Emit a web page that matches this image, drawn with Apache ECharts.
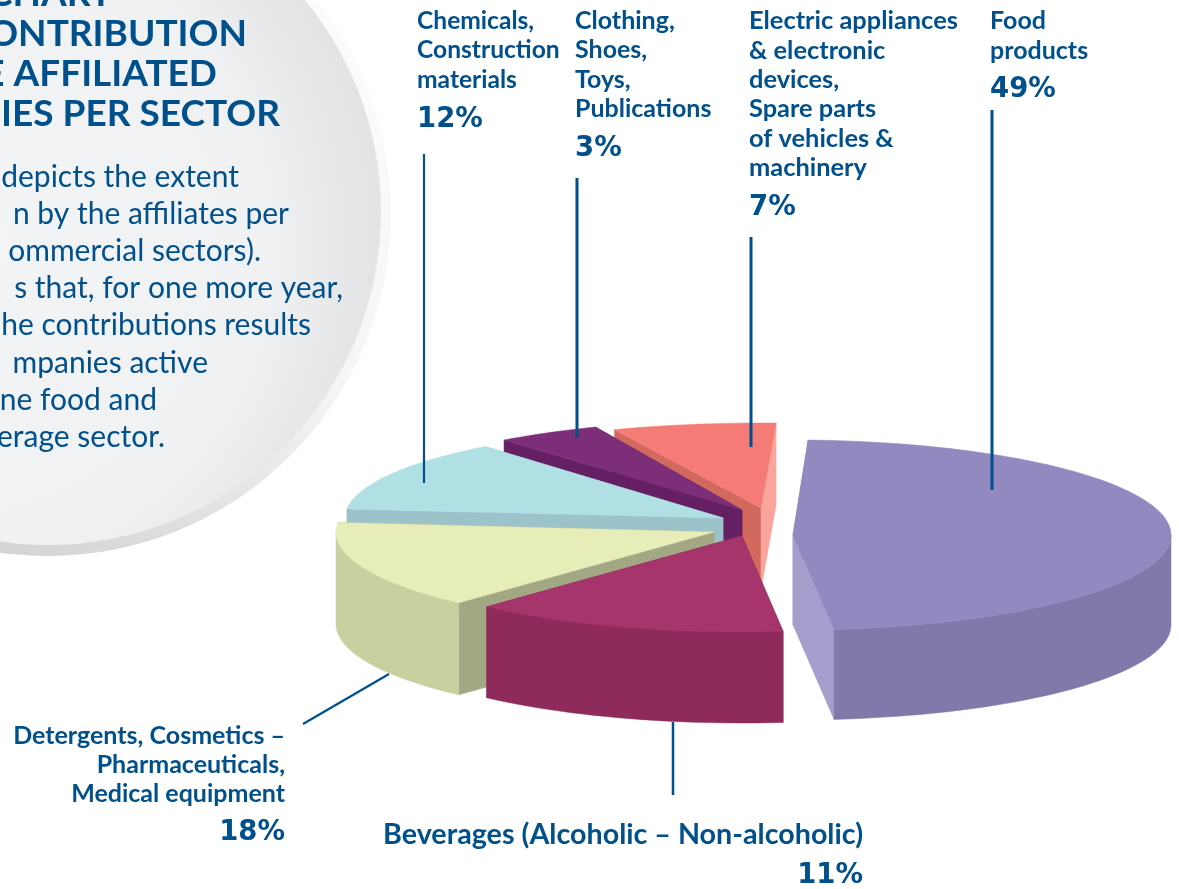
<!DOCTYPE html>
<html><head><meta charset="utf-8">
<style>html,body{margin:0;padding:0;background:#fff}#c{width:1179px;height:889px}</style>
<script src="https://cdn.jsdelivr.net/npm/echarts@6/dist/echarts.min.js"></script>
</head><body><div id="c"></div>
<script>
// ---- data ----
const sectorValues = [49, 11, 18, 12, 3, 7];
const sectorLabels = [
  ['Food', 'products'],
  ['Beverages (Alcoholic – Non-alcoholic)'],
  ['Detergents, Cosmetics –', 'Pharmaceuticals,', 'Medical equipment'],
  ['Chemicals,', 'Construction', 'materials'],
  ['Clothing,', 'Shoes,', 'Toys,', 'Publications'],
  ['Electric appliances', '& electronic', 'devices,', 'Spare parts', 'of vehicles &', 'machinery']
];
const headingLines = ['CHART', 'CONTRIBUTION', 'E AFFILIATED', 'NIES PER SECTOR'];
const bodyLines = ['depicts the extent', 'n by the affiliates per', 'ommercial sectors).', 's that, for one more year,',
  'he contributions results', 'mpanies active', 'ne food and', 'erage sector.'];

// ---- layout and style (not data) ----
const BLUE = '#00508c', FONT = 'Lato';
const RX = 378, START = 2.3;
const apexes = [[793,535],[742,536],[714,532],[723,518],[742,510],[761,508]];
const radiiY = [95, 96, 96, 92, 90, 85];
const depths = [90, 91, 92, 90, 90, 82];
const viewStretch = [0.972, 1.23, 0.821, 1.049, 1.5, 0.996];   // the drawing's perspective distortion of sweep
const drawOrder = [5, 4, 3, 2, 1, 0];                          // painter's order, back to front
const palette = [
  {top:'#9189c0', outer:'#8279ab', a:'#8279ab', b:'#a69fce'},
  {top:'#a5356b', outer:'#8e2b5b', a:'#8e2b5b', b:'#8e2b5b'},
  {top:'#e7edb9', outer:'#c9d0a0', a:'#a3a884', b:'#a3a884'},
  {top:'#b0e0e4', outer:'#9cc3c9', a:'#9cc3c9', b:'#9cc3c9'},
  {top:'#7c2e78', outer:'#651f63', a:'#651f63', b:'#651f63'},
  {top:'#f47b76', outer:'#d2695f', a:'#d2695f', b:'#f9a59c'}
];
const labelPlacement = [
  {x:990, y:21, align:'left', gap:29.5, pctGap:39.5, size:25},
  {x:863, y:835, align:'right', gap:29.5, pctGap:41, size:28.7},
  {x:285, y:736, align:'right', gap:29, pctGap:39, size:25},
  {x:417, y:21, align:'left', gap:29.5, pctGap:40, size:24.6},
  {x:575, y:21, align:'left', gap:29.3, pctGap:40, size:25},
  {x:749, y:21, align:'left', gap:29.4, pctGap:40, size:25.4}
];
const leaders = [[992,110,992,490,3],[673,722,673,795,2.5],[303,724,389,674,2.2],[424,154,424,483,2.2],[577,178,577,438,3],[751,237,751,447,3]];

// sweep boundaries derive from the values
const bounds = [];
let acc = START;
sectorValues.forEach((v,i)=>{ const s = v*3.6*viewStretch[i]; bounds.push([acc, acc+s]); acc += s; });

function pt(i, deg, dz){
  const t = deg*Math.PI/180, c = apexes[i];
  return [c[0]+RX*Math.sin(t), c[1]-radiiY[i]*Math.cos(t)+(dz||0)];
}
function arc(i, a, b, dz){
  const n = Math.max(8, Math.ceil((b-a)/2)), out = [];
  for(let k=0;k<=n;k++) out.push(pt(i, a+(b-a)*k/n, dz));
  return out;
}
function poly(points, color){
  return {type:'polygon', shape:{points}, style:{fill:color, stroke:color, lineWidth:0.5}};
}
function renderSlice(params, api){
  const i = api.value(0), value = api.value(1);
  const c = apexes[i], d = depths[i], a = bounds[i][0], b = a+value*3.6*viewStretch[i], col = palette[i];
  const topArc = arc(i,a,b,0);
  const cd = [c[0], c[1]+d];
  const kids = [
    poly([c, topArc[0], pt(i,a,d), cd], col.a),
    poly([c, topArc[topArc.length-1], pt(i,b,d), cd], col.b)
  ];
  // outer wall: only the part of the rim that faces the viewer
  const fa = Math.max(a,90), fb = Math.min(b,270);
  if(fb>fa) kids.push(poly(arc(i,fa,fb,0).concat(arc(i,fa,fb,d).reverse()), col.outer));
  kids.push(poly([c].concat(topArc), col.top));
  return {type:'group', children:kids};
}

// ---- page graphics ----
const graphic = [];
graphic.push({type:'circle', z:1, shape:{cx:48,cy:213,r:343}, style:{fill:{type:'linear',x:1,y:0,x2:0.2,y2:1,colorStops:[{offset:0,color:'#ffffff'},{offset:0.5,color:'#f4f5f5'},{offset:0.75,color:'#dcdddf'},{offset:1,color:'#cccdcf'}]}}});
graphic.push({type:'circle', z:2, shape:{cx:48,cy:212,r:333}, style:{fill:{type:'radial',x:0.35,y:0.55,r:0.68,colorStops:[{offset:0,color:'#f3f4f5'},{offset:0.7,color:'#f0f1f2'},{offset:1,color:'#e0e1e3'}]}}});
const headY = [-6, 34, 74, 114], headX = [112, 247, 217, 280];
headingLines.forEach((t,i)=>graphic.push({type:'text', z:3, style:{text:t, x:headX[i], y:headY[i], textAlign:'right', textVerticalAlign:'middle', fontFamily:FONT, fontWeight:700, fontSize:37, fill:BLUE}}));
const bodyX = [239,289,261,343,311,208,157,165];
bodyLines.forEach((t,i)=>graphic.push({type:'text', z:3, style:{text:t, x:bodyX[i], y:177+i*37.2, textAlign:'right', textVerticalAlign:'middle', fontFamily:FONT, fontWeight:400, fontSize:30, fill:BLUE}}));
sectorLabels.forEach((lines,i)=>{
  const p = labelPlacement[i];
  lines.forEach((t,k)=>graphic.push({type:'text', z:5, style:{text:t, x:p.x, y:p.y+k*p.gap, textAlign:p.align, textVerticalAlign:'middle', fontFamily:FONT, fontWeight:700, fontSize:p.size, fill:BLUE}}));
  graphic.push({type:'text', z:5, style:{text:sectorValues[i]+'%', x:p.x, y:p.y+(lines.length-1)*p.gap+p.pctGap, textAlign:p.align, textVerticalAlign:'middle', fontFamily:'DejaVu Sans', fontWeight:700, fontSize:27.5, fill:BLUE}});
});
leaders.forEach(l=>graphic.push({type:'line', z:5, shape:{x1:l[0],y1:l[1],x2:l[2],y2:l[3]}, style:{stroke:BLUE, lineWidth:l[4]}}));

const chart = echarts.init(document.getElementById('c'), null, {renderer:'canvas'});
chart.setOption({
  animation:false,
  backgroundColor:'#ffffff',
  graphic:{elements:graphic},
  series:[{
    type:'custom', coordinateSystem:'none', silent:true, z:4, clip:false,
    renderItem:renderSlice,
    encode:{value:1},
    data:drawOrder.map(i=>[i, sectorValues[i]])
  }]
});
</script></body></html>
